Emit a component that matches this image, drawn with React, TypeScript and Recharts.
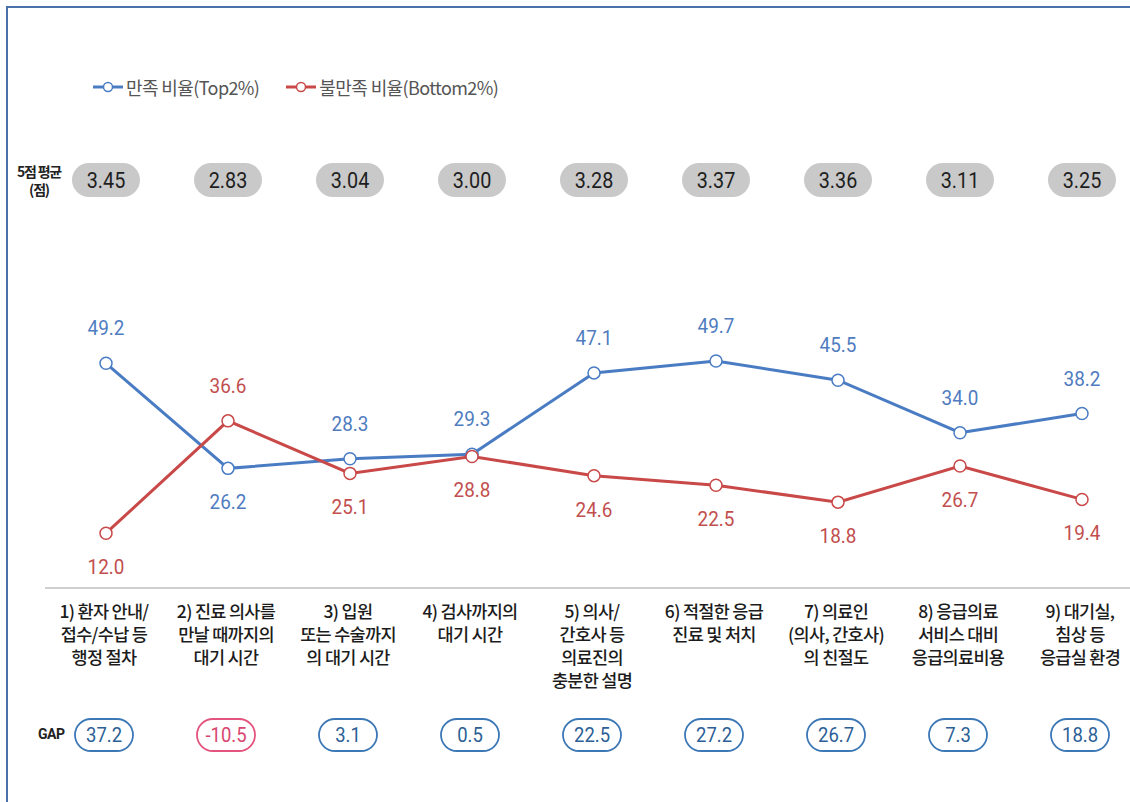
import { LineChart, Line, XAxis, YAxis, Legend, LabelList } from 'recharts';

const categories = [
  '1) 환자 안내/\n접수/수납 등\n행정 절차',
  '2) 진료 의사를\n만날 때까지의\n대기 시간',
  '3) 입원\n또는 수술까지\n의 대기 시간',
  '4) 검사까지의\n대기 시간',
  '5) 의사/\n간호사 등\n의료진의\n충분한 설명',
  '6) 적절한 응급\n진료 및 처치',
  '7) 의료인\n(의사, 간호사)\n의 친절도',
  '8) 응급의료\n서비스 대비\n응급의료비용',
  '9) 대기실,\n침상 등\n응급실 환경',
];
const top2 = [49.2, 26.2, 28.3, 29.3, 47.1, 49.7, 45.5, 34.0, 38.2];
const bottom2 = [12.0, 36.6, 25.1, 28.8, 24.6, 22.5, 18.8, 26.7, 19.4];
const averages = [3.45, 2.83, 3.04, 3.0, 3.28, 3.37, 3.36, 3.11, 3.25];
const gaps = [37.2, -10.5, 3.1, 0.5, 22.5, 27.2, 26.7, 7.3, 18.8];
// where each value label sits relative to its point
const top2LabelSide = ['up', 'down', 'up', 'up', 'up', 'up', 'up', 'up', 'up'];
const bottom2LabelSide = ['down', 'up', 'down', 'down', 'down', 'down', 'down', 'down', 'down'];

const BLUE = '#4a7cc3';
const RED = '#c94848';
const KR = '"Noto Sans CJK KR", "Noto Sans", sans-serif';
const NUM = '"Roboto", "Noto Sans", sans-serif';
const PAD = { left: 61, right: 61 };

const data = categories.map((name, i) => ({
  name,
  top2: top2[i],
  bottom2: bottom2[i],
  avg: averages[i],
  gap: gaps[i],
}));

function CategoryTick({ x, y, payload }: any) {
  const i = payload.index;
  const lines = String(payload.value).split('\n');
  const neg = gaps[i] < 0;
  return (
    <g>
      <text
        textAnchor="middle"
        fontFamily={KR}
        fontSize={17.5}
        fontWeight={500}
        fill="#1c1c1c"
        letterSpacing={-0.7}
      >
        {lines.map((l, k) => (
          <tspan key={k} x={x - 2} y={y + 30 + k * 23}>
            {l}
          </tspan>
        ))}
      </text>
      <rect
        x={x - 31}
        y={y + 131}
        width={58}
        height={32}
        rx={16}
        fill="#fff"
        stroke={neg ? '#e4537d' : '#3d78b6'}
        strokeWidth={1.8}
      />
      <text
        transform={`translate(${x - 2},${y + 154}) scale(0.88,1)`}
        textAnchor="middle"
        fontFamily={NUM}
        fontSize={21}
        fill={neg ? '#d8466f' : '#2c5f96'}
      >
        {gaps[i].toFixed(1)}
      </text>
    </g>
  );
}

function AverageTick({ x, y, payload }: any) {
  const i = payload.index;
  return (
    <g>
      <rect x={x - 34} y={y - 151} width={68} height={34} rx={17} fill="#c9c9c9" />
      <text
        transform={`translate(${x},${y - 126}) scale(0.9,1)`}
        textAnchor="middle"
        fontFamily={NUM}
        fontSize={22}
        fill="#1e1e1e"
      >
        {averages[i].toFixed(2)}
      </text>
    </g>
  );
}

function makeLabel(color: string, sides: string[]) {
  return ({ x, y, value, index }: any) => {
    const up = sides[index] === 'up';
    return (
      <text
        transform={`translate(${x},${up ? y - 28 : y + 41}) scale(0.9,1)`}
        textAnchor="middle"
        fontFamily={NUM}
        fontSize={21}
        fill={color}
      >
        {Number(value).toFixed(1)}
      </text>
    );
  };
}

function LegendContent() {
  const items = [
    { label: '만족 비율(Top2%)', color: BLUE },
    { label: '불만족 비율(Bottom2%)', color: RED },
  ];
  return (
    <div style={{ display: 'flex', alignItems: 'center', gap: 26 }}>
      {items.map((it) => (
        <div key={it.label} style={{ display: 'flex', alignItems: 'center' }}>
          <svg width={32} height={14}>
            <line x1={1} y1={7} x2={31} y2={7} stroke={it.color} strokeWidth={3} />
            <circle cx={16} cy={7} r={4.5} fill="#fff" stroke={it.color} strokeWidth={1.5} />
          </svg>
          <span style={{ fontFamily: KR, fontSize: 18, color: '#555', marginLeft: 2, letterSpacing: -0.6 }}>
            {it.label}
          </span>
        </div>
      ))}
    </div>
  );
}

export default function App() {
  return (
    <div
      style={{
        position: 'absolute',
        left: 0,
        top: 0,
        width: 1130,
        height: 802,
        overflow: 'hidden',
        background: '#fff',
      }}
    >
      <div style={{ position: 'absolute', left: 6, top: 6, width: 1130, height: 2, background: '#4b72a8' }} />
      <div style={{ position: 'absolute', left: 6, top: 6, width: 2, height: 802, background: '#4b72a8' }} />
      <div
        style={{
          position: 'absolute',
          left: 8,
          top: 162,
          width: 62,
          fontFamily: KR,
          fontSize: 14,
          fontWeight: 700,
          lineHeight: '18px',
          color: '#222',
          textAlign: 'center',
          letterSpacing: -1.2,
        }}
      >
        5점 평균
        <br />
        (점)
      </div>
      <div
        style={{
          position: 'absolute',
          left: 38,
          top: 726,
          fontFamily: NUM,
          fontSize: 14,
          fontWeight: 700,
          color: '#222',
          letterSpacing: -0.5,
        }}
      >
        GAP
      </div>
      <LineChart width={1150} height={802} data={data} margin={{ top: 164, right: 7, bottom: 0, left: 45 }}>
        <XAxis
          xAxisId="top"
          orientation="top"
          dataKey="name"
          height={150}
          padding={PAD}
          axisLine={false}
          tickLine={false}
          tickSize={0}
          tickMargin={0}
          interval={0}
          tick={<AverageTick />}
        />
        <XAxis
          dataKey="name"
          height={214}
          padding={PAD}
          axisLine={{ stroke: '#cfcfcf', strokeWidth: 2 }}
          tickLine={false}
          tickSize={0}
          tickMargin={0}
          interval={0}
          tick={<CategoryTick />}
        />
        <YAxis hide domain={[0, 60]} />
        <Legend
          layout="vertical"
          align="center"
          verticalAlign="middle"
          wrapperStyle={{ top: 74, left: 92, width: 'auto' }}
          content={<LegendContent />}
        />
        <Line
          type="linear"
          dataKey="top2"
          stroke={BLUE}
          strokeWidth={3}
          dot={{ r: 6, fill: '#fff', stroke: BLUE, strokeWidth: 1.5 }}
          isAnimationActive={false}
        >
          <LabelList dataKey="top2" content={makeLabel('#4f7cbf', top2LabelSide)} />
        </Line>
        <Line
          type="linear"
          dataKey="bottom2"
          stroke={RED}
          strokeWidth={3}
          dot={{ r: 6, fill: '#fff', stroke: RED, strokeWidth: 1.5 }}
          isAnimationActive={false}
        >
          <LabelList dataKey="bottom2" content={makeLabel('#c24e4e', bottom2LabelSide)} />
        </Line>
      </LineChart>
    </div>
  );
}
